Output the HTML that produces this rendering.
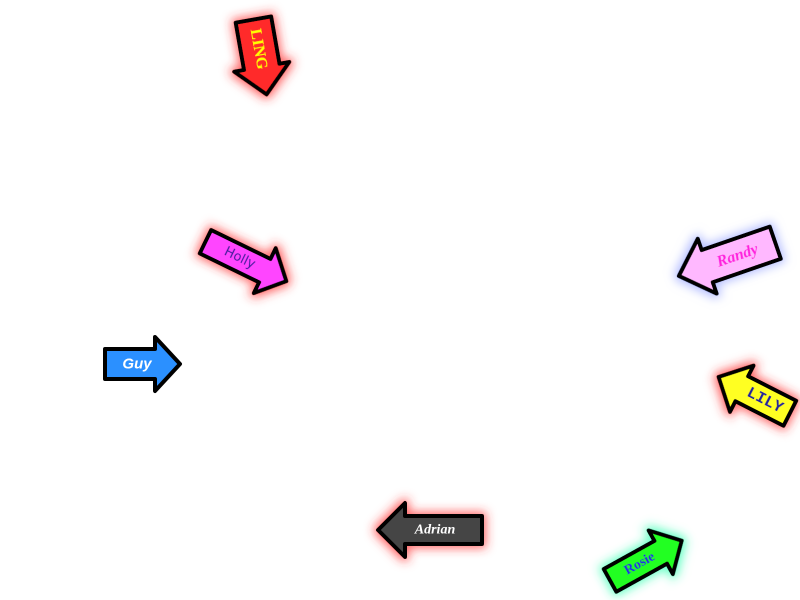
<!DOCTYPE html>
<html><head><meta charset="utf-8"><style>
html,body{margin:0;padding:0;background:#fff;width:800px;height:600px;overflow:hidden}
svg{display:block}
text{font-weight:bold;text-anchor:middle;dominant-baseline:central}
</style></head><body>
<svg width="800" height="600" viewBox="0 0 800 600">
<defs>
<filter id="gr" x="-50%" y="-50%" width="200%" height="200%"><feMorphology in="SourceAlpha" operator="dilate" radius="2" result="d"/><feGaussianBlur in="d" stdDeviation="5" result="b"/><feFlood flood-color="#ff3030" flood-opacity="0.75"/><feComposite in2="b" operator="in"/><feMerge><feMergeNode/><feMergeNode in="SourceGraphic"/></feMerge></filter>
<filter id="gb" x="-50%" y="-50%" width="200%" height="200%"><feMorphology in="SourceAlpha" operator="dilate" radius="2" result="d"/><feGaussianBlur in="d" stdDeviation="5" result="b"/><feFlood flood-color="#8090ff" flood-opacity="0.6"/><feComposite in2="b" operator="in"/><feMerge><feMergeNode/><feMergeNode in="SourceGraphic"/></feMerge></filter>
<filter id="gg" x="-50%" y="-50%" width="200%" height="200%"><feMorphology in="SourceAlpha" operator="dilate" radius="2" result="d"/><feGaussianBlur in="d" stdDeviation="5" result="b"/><feFlood flood-color="#30ffb0" flood-opacity="0.75"/><feComposite in2="b" operator="in"/><feMerge><feMergeNode/><feMergeNode in="SourceGraphic"/></feMerge></filter>
</defs>
<g stroke="#000" stroke-width="4" stroke-linejoin="round">
<g transform="translate(260,57) rotate(80)" filter="url(#gr)">
<path d="M-38,-18 L10,-18 L10,-28 L38,0 L10,28 L10,18 L-38,18 Z" fill="#ff2a2a"/>
<text x="-8" y="0" fill="#ffff00" stroke="none" style="font-family:'Liberation Serif',serif;font-size:16px">LING</text>
</g>
<g transform="translate(245,261) rotate(26)" filter="url(#gr)">
<path d="M-44,-13 L22,-13 L22,-25 L46,0 L22,25 L22,13 L-44,13 Z" fill="#ff44ff"/>
<text x="-6" y="0" fill="#3a1a9a" stroke="none" style="font-family:'DejaVu Sans',sans-serif;font-size:13px;font-weight:normal">Holly</text>
</g>
<g transform="translate(142,364)">
<path d="M-37,-15 L13,-15 L13,-27 L38,0 L13,27 L13,15 L-37,15 Z" fill="#2b90ff"/>
<text x="-5" y="0" fill="#fff" stroke="none" style="font-family:'Liberation Sans',sans-serif;font-size:15px;font-style:italic">Guy</text>
</g>
<g transform="translate(728,259) rotate(161)" filter="url(#gb)">
<path d="M-50,-17 L22,-17 L22,-29 L52,0 L22,29 L22,17 L-50,17 Z" fill="#ffb8ff"/>
<text x="-10" y="0" transform="rotate(180 -10 0)" fill="#ff22dd" stroke="none" style="font-family:'Liberation Serif',serif;font-size:16px;font-style:italic">Randy</text>
</g>
<g transform="translate(756,396) rotate(207)" filter="url(#gr)">
<path d="M-38,-14 L16,-14 L16,-26 L42,0 L16,26 L16,14 L-38,14 Z" fill="#ffff22"/>
<text x="-10" y="0" transform="rotate(180 -10 0)" fill="#22229a" stroke="none" style="font-family:'Liberation Mono',monospace;font-size:16px">LILY</text>
</g>
<g transform="translate(430,530) rotate(180)" filter="url(#gr)">
<path d="M-52,-14 L25,-14 L25,-27 L52,0 L25,27 L25,14 L-52,14 Z" fill="#444"/>
<text x="-5" y="0" transform="rotate(180 -5 0)" fill="#fff" stroke="none" style="font-family:'Liberation Serif',serif;font-size:14px;font-style:italic">Adrian</text>
</g>
<g transform="translate(645,561) rotate(-29)" filter="url(#gg)">
<path d="M-40,-13 L18,-13 L18,-25 L42,0 L18,25 L18,13 L-40,13 Z" fill="#22ff22"/>
<text x="-6" y="0" fill="#2233dd" stroke="none" style="font-family:'Liberation Serif',serif;font-size:14px">Rosie</text>
</g>
</g>
</svg>
</body></html>
